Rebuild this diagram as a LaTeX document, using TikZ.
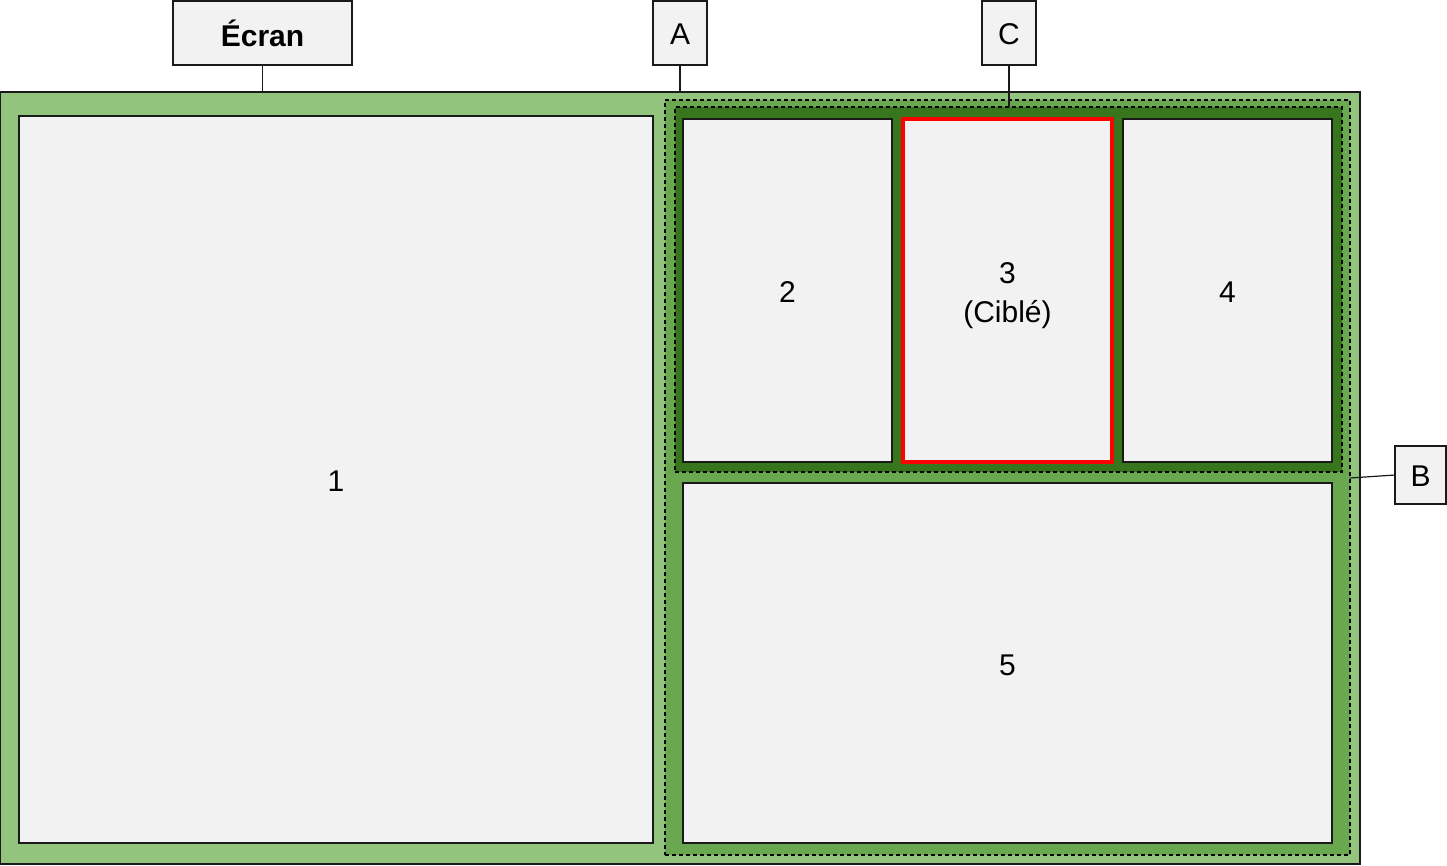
\documentclass[tikz,border=0pt]{standalone}
\usepackage{fontspec}
\setmainfont{Liberation Sans}
\definecolor{screenG}{HTML}{93C47D}
\definecolor{contAG}{HTML}{6AA84F}
\definecolor{contCG}{HTML}{38761D}
\definecolor{boxgray}{HTML}{F2F2F2}
\definecolor{edge}{HTML}{1A1A1A}
\newcommand{\lowr}[2]{\raisebox{-#1}[\height][\depth]{#2}}
\begin{document}
\begin{tikzpicture}[x=1pt,y=-1pt,
  every node/.style={inner sep=0pt,outer sep=0pt,rectangle,anchor=north west,
    font=\fontsize{30}{39}\selectfont,align=center},
  panel/.style={draw=edge,line width=1.5pt,fill=boxgray},
  label box/.style={draw=edge,line width=1.2pt,fill=boxgray},
  container/.style={draw=black,line width=1.3pt,dash pattern=on 4pt off 3pt},
  link/.style={draw=edge,line width=1.2pt}]
\useasboundingbox (0,0) rectangle (1447,866);
% screen
\node[draw=edge,line width=1.5pt,fill=screenG,minimum width=1360pt,minimum height=772pt] (screen) at (0,92) {};
\node[panel,minimum width=634pt,minimum height=727pt] (p1) at (19,116) {\lowr{2pt}{1}};
% container A
\node[container,fill=contAG,minimum width=685pt,minimum height=755pt] (contA) at (665,100) {};
% container C
\node[container,fill=contCG,minimum width=667pt,minimum height=365pt] (contC) at (675,107) {};
\node[panel,minimum width=209pt,minimum height=343pt] (p2) at (683,119) {\lowr{2pt}{2}};
\node[panel,draw=red,line width=3.5pt,minimum width=209pt,minimum height=343pt] (p3) at (903,119)
  {\lowr{5pt}{\begin{tabular}{@{}c@{}}3\\(Ciblé)\end{tabular}}};
\node[panel,minimum width=209pt,minimum height=343pt] (p4) at (1123,119) {\lowr{2pt}{4}};
\node[panel,minimum width=649pt,minimum height=360pt] (p5) at (683,483) {\lowr{2pt}{5}};
% labels
\node[label box,minimum width=179pt,minimum height=64pt] (ecran) at (173,1) {\textbf{Écran}};
\node[label box,minimum width=54pt,minimum height=64pt] (la) at (653,1) {\lowr{1pt}{A}};
\node[label box,minimum width=54pt,minimum height=64pt] (lc) at (982,1) {\lowr{1pt}{C}};
\node[label box,minimum width=51pt,minimum height=58pt] (lb) at (1395,446) {\lowr{1pt}{B}};
\coordinate (bend) at (1350,478);
% connectors
\draw[link] (ecran.south) -- (ecran.south |- screen.north);
\draw[link] (la.south) -- (la.south |- screen.north);
\draw[link] (lc.south) -- (lc.south |- contC.north);
\draw[link] (lb.west) -- (bend);
\end{tikzpicture}
\end{document}
